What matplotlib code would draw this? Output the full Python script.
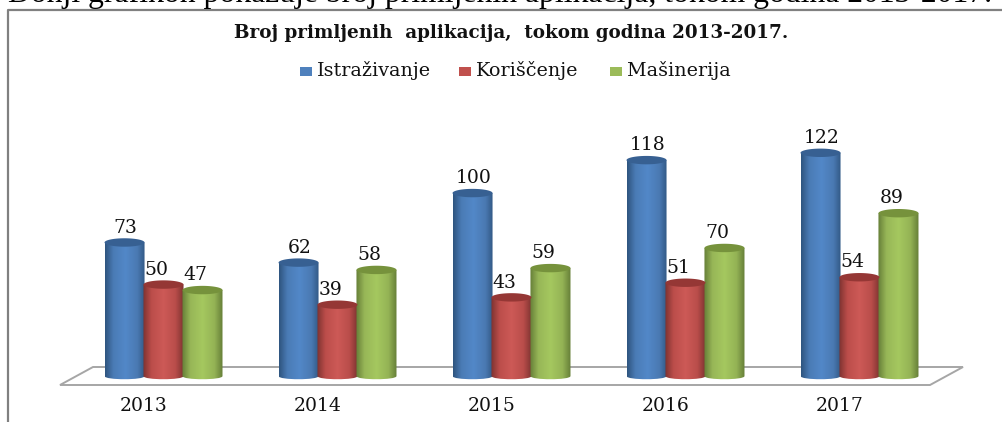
import numpy as np
import matplotlib
matplotlib.use('Agg')
import matplotlib.pyplot as plt
from matplotlib.patches import Polygon, PathPatch, Rectangle
from matplotlib.path import Path
from matplotlib.colors import LinearSegmentedColormap
from matplotlib.transforms import Affine2D

years = ['2013', '2014', '2015', '2016', '2017']
istrazivanje = [73, 62, 100, 118, 122]
koriscenje = [50, 39, 43, 51, 54]
masinerija = [47, 58, 59, 70, 89]

W, H = 1002, 422
plt.rcParams['font.family'] = ['DejaVu Serif']

fig = plt.figure(figsize=(W / 100, H / 100), dpi=100)
ax = fig.add_axes([0, 0, 1, 1])
ax.set_xlim(-0.9397, 4.819)
ax.set_ylim(-25.1, 205.5)
ax.axis('off')

# pixel coords from the top left corner, for everything that is not data
px = Affine2D().scale(1, -1).translate(0, H)

stops = [0, 0.2, 0.5, 0.8, 1]
series = [
    (istrazivanje, -0.224, 0.006, ['#2f5580', '#4a7bb5', '#5288c8', '#4a79b2', '#2f5580'], '#376092'),
    (koriscenje, 0.0, -0.04, ['#7e3331', '#bb4d4a', '#cd5a57', '#b94d4a', '#7e3331'], '#953735'),
    (masinerija, 0.224, -0.04, ['#667f38', '#97b657', '#a5c85f', '#94b355', '#667f38'], '#76923c'),
]
bar_w = 0.23
ell_h = 2.3

# floor
ax.add_patch(Polygon([(60, 385), (93, 367), (963, 367), (930, 385)], closed=True, fc='white',
                     ec='#a6a6a6', lw=1.4, transform=px, zorder=1))

for vals, off, lab_off, cols, topcol in series:
    cmap = LinearSegmentedColormap.from_list('c', list(zip(stops, cols)))
    grad = np.linspace(0, 1, 64).reshape(1, -1)
    for i, v in enumerate(vals):
        x0 = i + off - bar_w / 2
        x1 = i + off + bar_w / 2
        xm = i + off
        # body: flat sides, curved bottom and top
        verts = [(x0, v), (x0, 0), (x0, -ell_h), (x1, -ell_h), (x1, 0), (x1, v), (x1, v), (x0, v), (x0, v)]
        codes = [Path.MOVETO, Path.LINETO, Path.CURVE4, Path.CURVE4, Path.CURVE4, Path.LINETO,
                 Path.LINETO, Path.LINETO, Path.CLOSEPOLY]
        body = PathPatch(Path(verts, codes), fc='none', ec='none', transform=ax.transData, zorder=3 + i)
        ax.add_patch(body)
        im = ax.imshow(grad, extent=(x0, x1, -ell_h * 2, v), aspect='auto', cmap=cmap, zorder=3 + i,
                       interpolation='bilinear')
        im.set_clip_path(body)
        # top cap
        t = np.linspace(0, 2 * np.pi, 60)
        ax.fill(xm + bar_w / 2 * np.cos(t), v + ell_h * np.sin(t), color=topcol, lw=0, zorder=3.5 + i)
        ax.text(xm + lab_off, v + 3.2, str(v), ha='center', va='bottom', fontsize=13.5, color='#111111', zorder=20)

ax.set_xlim(-0.9397, 4.819)
ax.set_ylim(-25.1, 205.5)

# frame
ax.plot([8, 8, 1002], [H, 10, 10], color='#808080', lw=1.6, transform=px, clip_on=False, zorder=2)

for i, y in enumerate(years):
    ax.text(i - 0.112, -16.5, y, ha='center', va='center', fontsize=13.5, color='#111111')

ax.text(8, 2, 'Donji grafikon pokazuje broj primljenih aplikacija, tokom godina 2013-2017.', transform=px,
        fontsize=22.8, color='black', ha='left', va='baseline', family='Liberation Serif')
ax.text(511.5, 33, 'Broj primljenih  aplikacija,  tokom godina 2013-2017.', transform=px, ha='center', va='center',
        fontsize=13.2, fontweight='bold', color='#111111')

for x, name, col in [(300, 'Istraživanje', '#4f81bd'), (459, 'Koriščenje', '#c0504d'), (610, 'Mašinerija', '#9bbb59')]:
    ax.add_patch(Rectangle((x, 67), 12, 9, fc=col, ec='none', transform=px))
    ax.text(x + 17, 71, name, transform=px, ha='left', va='center', fontsize=13.8, color='#111111')

fig.savefig('out.png', dpi=100)
